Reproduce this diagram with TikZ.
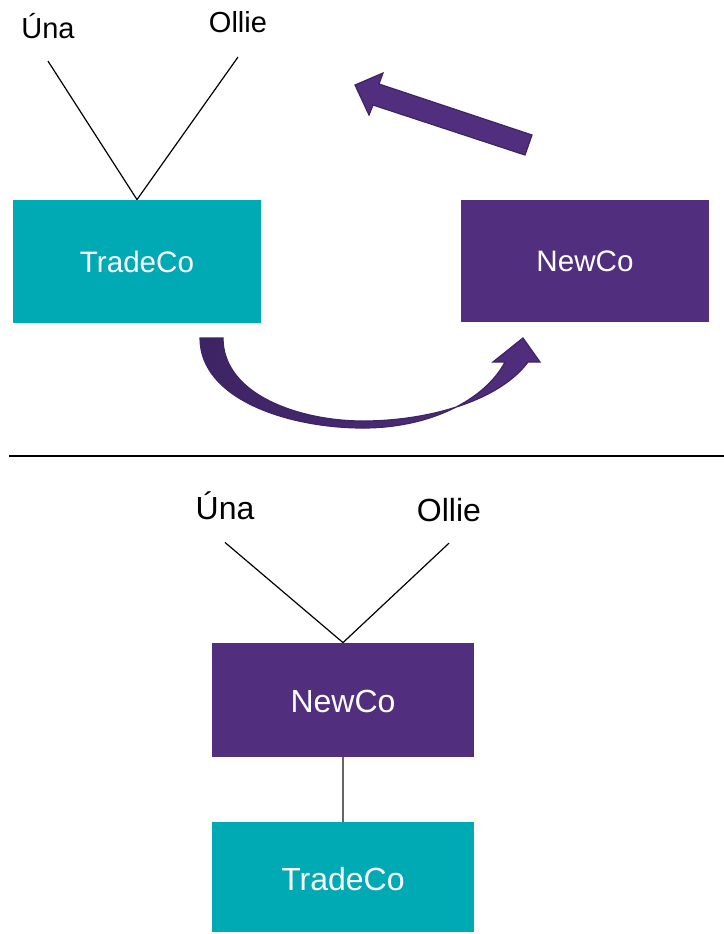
\documentclass[tikz,border=0pt]{standalone}
\usepackage{fontspec}
\setmainfont{Liberation Sans}
\definecolor{tealco}{RGB}{0,170,181}
\definecolor{purpleco}{RGB}{81,46,126}
\definecolor{purpledark}{RGB}{61,36,100}
\tikzset{
  company/.style={rectangle,inner sep=0pt,text=white,
    font=\fontsize{14.8}{17}\selectfont},
  person/.style={inner sep=0pt,font=\fontsize{14.5}{17}\selectfont},
  big/.style={font=\fontsize{16}{19}\selectfont},
  link/.style={black,line width=0.6pt}
}
\begin{document}
\begin{tikzpicture}[x=0.5pt,y=-0.5pt]
  \useasboundingbox (0,0) rectangle (724,934);
  % before: Una and Ollie own TradeCo
  \node [company,fill=tealco,minimum width=124pt,minimum height=61.5pt] (trade1) at (137,261.5) {TradeCo};
  \node [company,fill=purpleco,minimum width=124pt,minimum height=61pt] (new1) at (585,261) {NewCo};
  \node [person] (una1) at (48,26) {Úna};
  \node [person] (ollie1) at (238,22) {Ollie};
  \draw [link] ([yshift=-11pt]una1.south) -- (trade1.north);
  \draw [link] ([yshift=-12pt]ollie1.south) -- (trade1.north);
%   the shares go across to NewCo
  \shade [left color=purpledark,right color=purpleco,draw=purpledark,line width=0.6pt]
    (200,338) .. controls (200,400) and (290,428) .. (363,428)
    .. controls (430,428) and (485,400) .. (505,362)
    -- (493,362) -- (523,338) -- (540,362) -- (528,362)
    .. controls (500,400) and (430,421) .. (363,421)
    .. controls (300,421) and (223,395) .. (223,338) -- cycle;
%   and NewCo pays back
  \filldraw [fill=purpleco,draw=purpledark,line width=0.6pt]
    (355,85) -- (383,73) -- (379,84) -- (532,135) -- (525,155)
    -- (373,105) -- (369,115) -- cycle;
  \draw [black,line width=0.7pt] (9,456) -- (724,456);
  % after: NewCo sits between them and TradeCo
  \node [company,big,fill=purpleco,minimum width=131pt,minimum height=57pt,text depth=0pt] (new2) at (343,700) {\raisebox{-1.5pt}{NewCo}};
  \node [company,big,fill=tealco,minimum width=131pt,minimum height=55pt,text depth=0pt] (trade2) at (343,877) {\raisebox{-1.5pt}{TradeCo}};
  \node [person,big] (una2) at (225,506) {Úna};
  \node [person,big] (ollie2) at (449,510) {Ollie};
  \draw [link] ([yshift=-11pt]una2.south) -- (new2.north);
  \draw [link] ([yshift=-10.5pt]ollie2.south) -- (new2.north);
  \draw [black!60,line width=0.8pt] (new2.south) -- (trade2.north);
\end{tikzpicture}
\end{document}
